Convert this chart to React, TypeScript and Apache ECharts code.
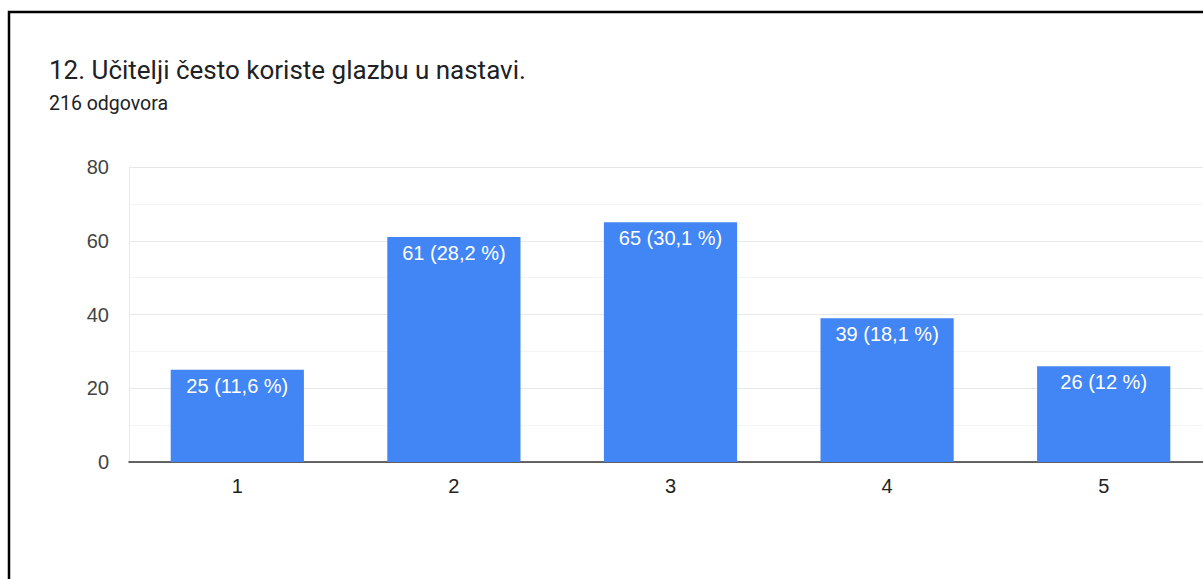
import React, { useEffect, useRef } from "react";
import * as echarts from "echarts";

const categories = ["1", "2", "3", "4", "5"];
const counts = [25, 61, 65, 39, 26];
const percents = ["11,6", "28,2", "30,1", "18,1", "12"];
const titleText = "12. Učitelji često koriste glazbu u nastavi.";
const subtitleText = "216 odgovora";

export default function App() {
  const ref = useRef<HTMLDivElement>(null);
  useEffect(() => {
    const chart = echarts.init(ref.current!, null, { renderer: "svg" });
    chart.setOption({
      animation: false,
      backgroundColor: "#ffffff",
      graphic: [
        {
          type: "rect",
          shape: { x: 9, y: 12, width: 1300, height: 700 },
          style: { fill: "none", stroke: "#000", lineWidth: 2.5 },
          z: 10,
        },
        {
          type: "text",
          x: 49,
          y: 70,
          style: {
            text: titleText,
            fontFamily: "Roboto",
            fontSize: 26,
            fill: "#202124",
            verticalAlign: "middle",
          },
        },
        {
          type: "text",
          x: 49,
          y: 103,
          style: {
            text: subtitleText,
            fontFamily: "Roboto",
            fontSize: 19.5,
            fill: "#202124",
            verticalAlign: "middle",
          },
        },
      ],
      grid: { left: 129, top: 167, width: 1083, height: 295, containLabel: false },
      xAxis: {
        type: "category",
        data: categories,
        axisTick: { show: false },
        axisLine: { show: true, lineStyle: { color: "#333", width: 1.5 } },
        axisLabel: {
          color: "#222",
          fontFamily: "Liberation Sans",
          fontSize: 20,
          margin: 14,
        },
      },
      yAxis: {
        type: "value",
        min: 0,
        max: 80,
        interval: 20,
        axisLine: { show: true, lineStyle: { color: "#ebebeb", width: 1 } },
        axisTick: { show: false },
        axisLabel: {
          color: "#444",
          fontFamily: "Liberation Sans",
          fontSize: 20,
          margin: 20,
        },
        splitLine: { show: true, lineStyle: { color: "#e8e8e8", width: 1 } },
        minorTick: { show: false, splitNumber: 2 },
        minorSplitLine: { show: true, lineStyle: { color: "#f4f4f4", width: 1 } },
      },
      series: [
        {
          type: "bar",
          data: counts,
          barWidth: "61.5%",
          itemStyle: { color: "#4285f4" },
          label: {
            show: true,
            position: "insideTop",
            distance: 6,
            color: "#fff",
            fontFamily: "Liberation Sans",
            fontSize: 20,
            formatter: (p: any) => `${counts[p.dataIndex]} (${percents[p.dataIndex]} %)`,
          },
        },
      ],
    });
    return () => chart.dispose();
  }, []);
  return (
    <div
      style={{
        position: "absolute",
        left: 0,
        top: 0,
        width: 1203,
        height: 579,
        overflow: "hidden",
      }}
    >
      <div ref={ref} style={{ width: 1220, height: 579 }} />
    </div>
  );
}
